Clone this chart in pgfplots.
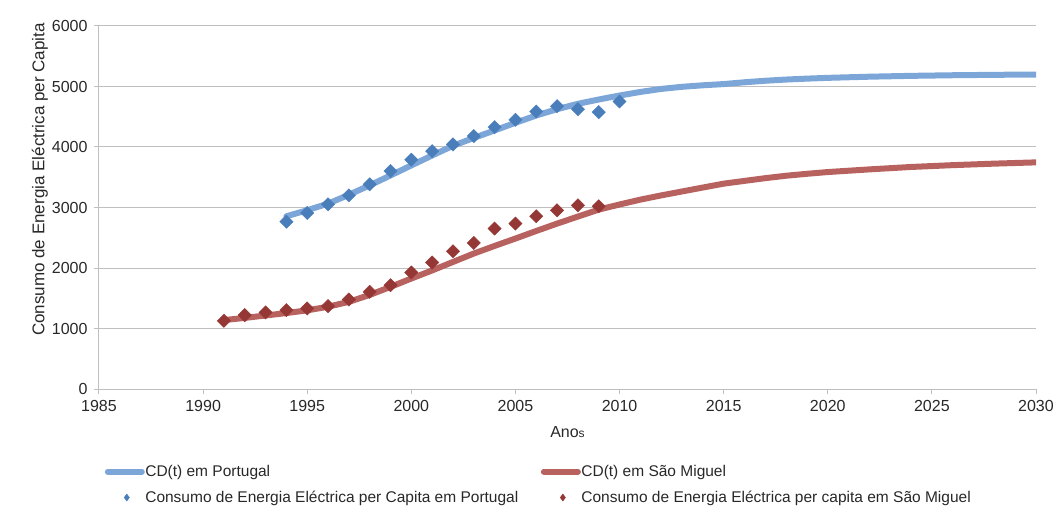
\documentclass[border=0pt]{standalone}
\usepackage{fontspec}
\setmainfont{Liberation Sans}
\usepackage{pgfplots}
\pgfplotsset{compat=1.18}
\definecolor{ptline}{RGB}{125,166,216}
\definecolor{ptmark}{RGB}{74,126,187}
\definecolor{smline}{RGB}{184,98,96}
\definecolor{smmark}{RGB}{149,55,53}
\definecolor{gridgray}{RGB}{191,191,191}
\definecolor{txt}{RGB}{40,40,40}

\pgfplotsset{
    lineleg/.style={legend image code/.code={\draw[##1] (0pt,0pt) -- (34pt,0pt);}},
    markleg/.style={legend image code/.code={\draw[##1, mark=diamond*, mark options={rotate=0}, mark size=3.5pt] plot coordinates {(19pt,0pt)};}},
}

% fitted curves
\pgfplotstableread{
year cd
1994 2855
1995 2955
1996 3064
1997 3210
1998 3366
1999 3530
2000 3696
2001 3860
2002 4020
2003 4150
2004 4274
2005 4400
2006 4521
2007 4625
2008 4714
2009 4785
2010 4851
2011 4910
2012 4960
2013 4995
2014 5020
2015 5040
2016 5070
2017 5095
2018 5115
2019 5130
2020 5143
2022 5162
2024 5176
2026 5186
2028 5193
2030 5198
}\cdpt
\pgfplotstableread{
year cd
1991 1139
1992 1175
1993 1215
1994 1255
1995 1300
1996 1360
1997 1441
1998 1555
1999 1688
2000 1826
2001 1960
2002 2100
2003 2239
2004 2365
2005 2487
2006 2612
2007 2734
2008 2850
2009 2965
2010 3050
2011 3130
2012 3200
2013 3265
2014 3330
2015 3394
2016 3440
2017 3485
2018 3525
2019 3557
2020 3586
2022 3630
2024 3670
2026 3700
2028 3725
2030 3746
}\cdsm
% observed consumption
\pgfplotstableread{
year c
1994 2765
1995 2910
1996 3053
1997 3201
1998 3383
1999 3602
2000 3790
2001 3932
2002 4043
2003 4180
2004 4328
2005 4450
2006 4587
2007 4675
2008 4625
2009 4576
2010 4752
}\obspt
\pgfplotstableread{
year c
1991 1127
1992 1221
1993 1266
1994 1304
1995 1332
1996 1370
1997 1480
1998 1606
1999 1716
2000 1926
2001 2091
2002 2277
2003 2414
2004 2652
2005 2734
2006 2855
2007 2954
2008 3036
2009 3020
}\obssm

\begin{document}
\begin{tikzpicture}
\begin{axis}[
    scale only axis,
    width=937pt, height=363pt,
    xmin=1985, xmax=2030, ymin=0, ymax=6000,
    xtick={1985,1990,...,2030},
    ytick={0,1000,...,6000},
    axis x line=bottom, axis y line=left,
    axis line style={draw=gridgray, line width=1pt, -},
    ymajorgrids,
    grid style={gridgray, line width=1pt},
    tick style={gridgray, line width=1pt},
    tick align=outside,
    major tick length=5pt,
    /pgf/number format/1000 sep={},
    /pgf/number format/assume math mode=true,
    tick label style={font=\fontsize{16}{19}\selectfont, text=txt},
    xticklabel style={yshift=-3pt},
    yticklabel style={xshift=-3pt},
    xlabel={Ano{\fontsize{12}{14}\selectfont s}},
    xlabel style={at={(axis description cs:0.5,-0.118)}, anchor=center,
        font=\fontsize{16}{19}\selectfont, text=txt},
    ylabel={Consumo de Energia Eléctrica per Capita},
    ylabel style={at={(axis description cs:-0.063,0.577)}, anchor=center,
        font=\fontsize{17}{20}\selectfont, text=txt},
    legend columns=2,
    legend cell align=left,
    legend style={at={(axis description cs:0.006,-0.207)}, anchor=north west,
        draw=none, fill=none, inner sep=0pt,
        nodes={inner xsep=0.5pt, inner ysep=1pt},
        font=\fontsize{15.5}{18}\selectfont, text=txt,
        row sep=11pt,
        /tikz/every even column/.append style={column sep=22pt}},
]
\addplot[ptline, line width=6pt, line cap=round, lineleg]
    table[x=year, y=cd] {\cdpt};
\addlegendentry{CD(t) em Portugal}
\addplot[smline, line width=6pt, line cap=round, lineleg]
    table[x=year, y=cd] {\cdsm};
\addlegendentry{CD(t) em São Miguel}
\addplot[only marks, mark=square*, mark options={rotate=45}, mark size=4.7pt, color=ptmark, markleg]
    table[x=year, y=c] {\obspt};
\addlegendentry{Consumo de Energia Eléctrica per Capita em Portugal}
\addplot[only marks, mark=square*, mark options={rotate=45}, mark size=4.7pt, color=smmark, markleg]
    table[x=year, y=c] {\obssm};
\addlegendentry{Consumo de Energia Eléctrica per capita em São Miguel}
\end{axis}
\pgfresetboundingbox
\useasboundingbox (-99pt,-117pt) rectangle (956pt,389pt);
\end{tikzpicture}
\end{document}
